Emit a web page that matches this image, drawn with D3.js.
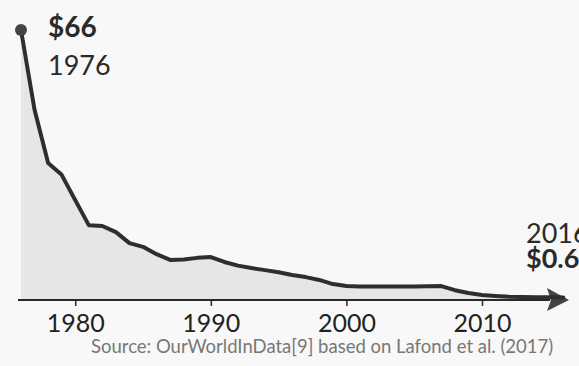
<!DOCTYPE html>
<html>
<head>
<meta charset="utf-8">
<script src="https://cdn.jsdelivr.net/npm/d3@7"></script>
<style>
  html, body { margin: 0; padding: 0; background: #f8f8f8; overflow: hidden; }
  svg { display: block; font-family: Lato, "Open Sans", sans-serif; }
</style>
</head>
<body>
<svg id="chart" width="579" height="366"></svg>
<script>
// Price per unit, 1976–2016 (US dollars)
const years = [1976, 1977, 1978, 1979, 1980, 1981, 1982, 1983, 1984, 1985,
               1986, 1987, 1988, 1989, 1990, 1991, 1992, 1993, 1994, 1995,
               1996, 1997, 1998, 1999, 2000, 2001, 2002, 2003, 2004, 2005,
               2006, 2007, 2008, 2009, 2010, 2011, 2012, 2013, 2014, 2015, 2016];
const prices = [66, 46.5, 33.5, 30.6, 24.4, 18.3, 18.1, 16.6, 13.9, 13.0,
                11.2, 9.8, 9.9, 10.3, 10.5, 9.3, 8.4, 7.8, 7.3, 6.8,
                6.1, 5.6, 4.9, 3.9, 3.4, 3.3, 3.3, 3.3, 3.3, 3.3,
                3.35, 3.4, 2.4, 1.7, 1.2, 1.0, 0.8, 0.75, 0.7, 0.65, 0.6];
const tickYears = [1980, 1990, 2000, 2010];
const sourceNote = "Source: OurWorldInData[9] based on Lafond et al. (2017)";

const data = years.map((y, i) => ({ year: y, price: prices[i] }));

const svg = d3.select("#chart");
const axisY = 300;

const x = d3.scaleLinear().domain([1976, 2010]).range([21, 482]);
const y = d3.scaleLinear().domain([0, 66]).range([axisY, 30]);

// shaded area under the curve
const area = d3.area()
  .x(d => x(d.year))
  .y0(axisY)
  .y1(d => y(d.price))
  .curve(d3.curveLinear);

svg.append("path")
  .datum(data)
  .attr("d", area)
  .attr("fill", "#e6e6e6");

// x axis: ticks and year labels
const axis = d3.axisBottom(x)
  .tickValues(tickYears)
  .tickFormat(d3.format("d"))
  .tickSize(6);

const gAxis = svg.append("g")
  .attr("transform", `translate(0,${axisY})`)
  .call(axis);

gAxis.select(".domain").remove();
gAxis.selectAll(".tick line").attr("stroke", "#333").attr("stroke-width", 1.6);
gAxis.selectAll(".tick text")
  .attr("fill", "#222")
  .attr("font-size", 25)
  .attr("font-family", "Lato, sans-serif")
  .attr("y", 32)
  .attr("dy", 0);

// baseline with arrowhead
svg.append("line")
  .attr("x1", 18).attr("x2", 550)
  .attr("y1", axisY).attr("y2", axisY)
  .attr("stroke", "#2a2a2a")
  .attr("stroke-width", 2.2);

svg.append("path")
  .attr("d", `M547,${axisY - 12} L569,${axisY} L547,${axisY + 11} L551,${axisY} Z`)
  .attr("fill", "#444");

// price line
const line = d3.line()
  .x(d => x(d.year))
  .y(d => y(d.price))
  .curve(d3.curveLinear);

svg.append("path")
  .datum(data)
  .attr("d", line)
  .attr("fill", "none")
  .attr("stroke", "#2e2e2e")
  .attr("stroke-width", 4)
  .attr("stroke-linejoin", "round")
  .attr("stroke-linecap", "round");

// start marker
const first = data[0];
const last = data[data.length - 1];
svg.append("circle")
  .attr("cx", x(first.year))
  .attr("cy", y(first.price))
  .attr("r", 6)
  .attr("fill", "#444");

// start and end labels
svg.append("text")
  .attr("x", 48).attr("y", 37)
  .attr("font-size", 28).attr("font-weight", 700)
  .attr("fill", "#2a2a2a")
  .text(`$${first.price}`);

svg.append("text")
  .attr("x", 48).attr("y", 75)
  .attr("font-size", 27)
  .attr("fill", "#2a2a2a")
  .text(first.year);

svg.append("text")
  .attr("x", 526).attr("y", 243)
  .attr("font-size", 27)
  .attr("fill", "#2a2a2a")
  .text(last.year);

svg.append("text")
  .attr("x", 526).attr("y", 268)
  .attr("font-size", 27).attr("font-weight", 700)
  .attr("fill", "#2a2a2a")
  .text(`$${last.price.toFixed(2)}`);

// source note
svg.append("text")
  .attr("x", 91).attr("y", 353)
  .attr("font-size", 18.5)
  .attr("fill", "#777")
  .text(sourceNote);
</script>
</body>
</html>
